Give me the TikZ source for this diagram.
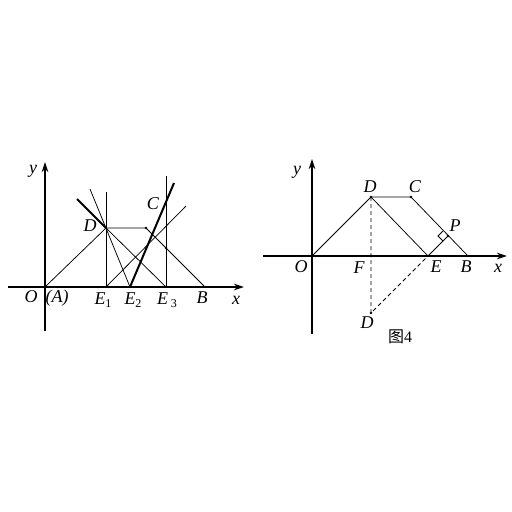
\documentclass[tikz,border=0pt]{standalone}
\usepackage{fontspec}
\setmainfont{Liberation Serif}
\newfontfamily\cjk{Noto Sans CJK SC}
\usetikzlibrary{arrows.meta,calc}
\begin{document}
\begin{tikzpicture}[x=1pt,y=-1pt,
  axis/.style={line width=1.2pt,-{Stealth[length=10pt,width=6.5pt,inset=3pt]}},
  seg/.style={line width=0.75pt},
  vline/.style={line width=0.9pt},
  bold/.style={line width=2pt},
  dashseg/.style={line width=0.8pt,dash pattern=on 4pt off 3pt},
  lbl/.style={font=\itshape\fontsize{18}{18}\selectfont,inner sep=0pt},
  dot/.style={circle,fill=black,inner sep=0pt,minimum size=2.6pt}]
\useasboundingbox (0,0) rectangle (512,512);
% ---------- left figure ----------
\coordinate (O) at (45,287);
\coordinate (D) at (106,228);
\coordinate (Dh) at (146,228);
\coordinate (E1) at (106,287);
\coordinate (E2) at (130,287);
\coordinate (E3) at (166,287);
\coordinate (B) at (205,287);
\coordinate (Xl) at (8,287);
\coordinate (Xr) at (244,287);
\coordinate (Yb) at (45,331);
\coordinate (Yt) at (45,162);
\coordinate (T1) at (90,189);
\coordinate (T2) at (77,199);
\coordinate (T3) at (174,183);
\coordinate (T4) at (186,206);
\coordinate (V1) at (106,192);
\coordinate (V3) at (166,176);
\coordinate (K) at (166,248);
\draw[axis] (Xl) -- (Xr);
\draw[axis] (Yb) -- (Yt);
\draw[seg] (O) -- (D) -- (Dh);
\draw[seg] (D) -- (E3);
\draw[seg] (Dh) -- (B);
\draw[seg] (E1) -- (T4);
\draw[seg] (T1) -- (E2);
\draw[vline] (E1) -- (V1);
\draw[vline] (E3) -- (V3);
\draw[bold] (T2) -- (D);
\draw[bold] (E2) -- (T3);
\node[dot] (dh) at (Dh) {};
\node[dot] (k) at (K) {};
\node[lbl] (ly) at (33,171) {y};
\node[lbl] (lO) at (31,297) {O};
\node[lbl] (lA) at (57,298) {(A)};
\node[lbl] (lE1) at (103,300) {E\raisebox{-3pt}{\upshape\fontsize{12}{12}\selectfont 1}};
\node[lbl] (lE2) at (133,300) {E\raisebox{-3pt}{\upshape\fontsize{12}{12}\selectfont 2}};
\node[lbl] (lE3) at (167,300) {E\,\raisebox{-3pt}{\upshape\fontsize{12}{12}\selectfont 3}};
\node[lbl] (lB) at (202,298) {B};
\node[lbl] (lx) at (236,300) {x};
\node[lbl] (lD) at (90,226) {D};
\node[lbl] (lC) at (153,204) {C};
% ---------- right figure ----------
\coordinate (O2) at (312,256);
\coordinate (D2) at (371,197);
\coordinate (C2) at (411,197);
\coordinate (E) at (428,256);
\coordinate (B2) at (468,256);
\coordinate (P) at (448,236);
\coordinate (F) at (371,256);
\coordinate (Dp) at (371,313);
\coordinate (X2l) at (263,256);
\coordinate (X2r) at (507,256);
\coordinate (Y2b) at (312,334);
\coordinate (Y2t) at (312,159);
\coordinate (Q1) at ($(P)+(-5,-5)$);
\coordinate (Q2) at ($(P)+(-10,0)$);
\coordinate (Q3) at ($(P)+(-5,5)$);
\draw[axis] (X2l) -- (X2r);
\draw[axis] (Y2b) -- (Y2t);
\draw[seg] (O2) -- (D2) -- (C2) -- (B2);
\draw[seg] (D2) -- (E);
\draw[seg] (E) -- (P);
\draw[dashseg] (D2) -- (Dp) -- (E);
\draw[seg] (Q1) -- (Q2) -- (Q3);
\node[dot] at (D2) {};
\node[dot] at (C2) {};
\node[dot] at (P) {};
\node[dot] at (F) {};
\node[dot] at (Dp) {};
\node[lbl] (ly2) at (297,172) {y};
\node[lbl] (lD2) at (370,187) {D};
\node[lbl] (lC2) at (415,187) {C};
\node[lbl] (lP) at (455,226) {P};
\node[lbl] (lO2) at (301,267) {O};
\node[lbl] (lF) at (359,268) {F};
\node[lbl] (lE) at (436,267) {E};
\node[lbl] (lB2) at (466,267) {B};
\node[lbl] (lx2) at (498,268) {x};
\node[lbl] (lDp) at (367,323) {D};
\node[inner sep=0pt,font=\fontsize{16}{16}\selectfont] (fig) at (400,337) {{\cjk 图}4};
\end{tikzpicture}
\end{document}
